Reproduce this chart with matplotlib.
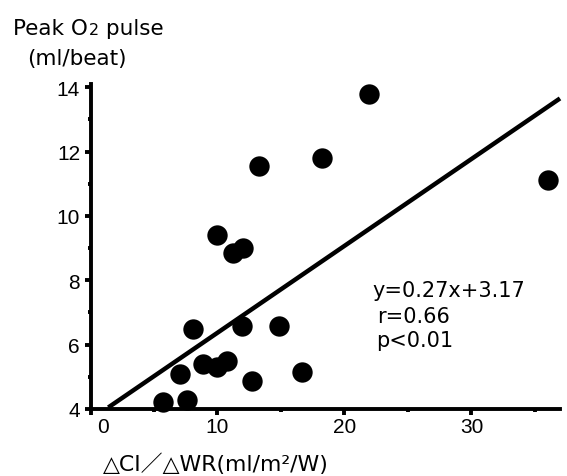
import matplotlib
matplotlib.use("Agg")
import matplotlib.pyplot as plt
from matplotlib.ticker import MultipleLocator
from matplotlib.transforms import ScaledTranslation

# data
ci_wr = [21.9, 18.25, 13.24, 36.0, 9.94, 11.24, 12.03, 8.09, 11.91, 14.82,
         8.88, 9.94, 10.72, 7.05, 12.72, 16.65, 5.69, 7.62]
o2_pulse = [13.78, 11.8, 11.55, 11.12, 9.41, 8.84, 8.99, 6.48, 6.59, 6.57,
            5.40, 5.29, 5.50, 5.09, 4.87, 5.14, 4.23, 4.28]

# regression line as drawn in the figure
fit_slope = 0.27
fit_intercept = 3.67
fit_x = [1.4, 36.97]

x_ticks = [0, 10, 20, 30]
y_ticks = [4, 6, 8, 10, 12, 14]
stats_lines = ["y=0.27x+3.17", "r=0.66", "p<0.01"]

W, H = 567, 477


def fx(px):
    return px / W


def fy(py):
    return 1 - py / H


fig = plt.figure(figsize=(W / 100, H / 100), dpi=100)
ax = fig.add_axes([fx(90.5), fy(410), (560 - 90.5) / W, (410 - 85) / H])

ax.scatter(ci_wr, o2_pulse, s=215, color="black", linewidths=0, zorder=3, clip_on=False)
fit_y = [fit_slope * x + fit_intercept for x in fit_x]
ax.plot(fit_x, fit_y, color="black", lw=3.2, solid_capstyle="butt", clip_on=False)

ax.set_xlim(0, 36.97)
ax.set_ylim(4, 14.1)

for side in ["top", "right"]:
    ax.spines[side].set_visible(False)
for side in ["left", "bottom"]:
    ax.spines[side].set_linewidth(2.8)

ax.set_xticks(x_ticks)
ax.set_yticks(y_ticks)
ax.xaxis.set_minor_locator(MultipleLocator(5))
ax.yaxis.set_minor_locator(MultipleLocator(1))
ax.tick_params(which="both", direction="out", width=2.8, labelsize=15)
ax.tick_params(which="major", length=4.5)
ax.tick_params(which="minor", length=2.2)
ax.tick_params(axis="x", pad=1.5)
ax.tick_params(axis="y", pad=3)
for lab in ax.get_xticklabels() + ax.get_yticklabels():
    lab.set_family("Liberation Sans")

# the "0" label sits a bit right of the axis corner
zero_lab = ax.get_xticklabels()[0]
zero_lab.set_transform(zero_lab.get_transform() + ScaledTranslation(0.13, 0, fig.dpi_scale_trans))

baselines = [297, 323, 347]
lefts = [372, 377, 376]
for line, xl, yb in zip(stats_lines, lefts, baselines):
    fig.text(fx(xl), fy(yb), line, fontsize=15, ha="left", va="baseline",
             family="DejaVu Sans")

# y axis title with the small "2"
fig.canvas.draw()
renderer = fig.canvas.get_renderer()
t1 = fig.text(fx(13), fy(35), "Peak O", fontsize=15.5, ha="left", va="baseline",
              family="DejaVu Sans")
bb = t1.get_window_extent(renderer)
t2 = fig.text(bb.x1 / W + 0.002, fy(35), "2", fontsize=11.5, ha="left", va="baseline",
              family="DejaVu Sans")
bb2 = t2.get_window_extent(renderer)
fig.text(bb2.x1 / W, fy(35), " pulse", fontsize=15.5, ha="left", va="baseline",
         family="DejaVu Sans")
fig.text(fx(27), fy(65), "(ml/beat)", fontsize=15.5, ha="left", va="baseline",
         family="DejaVu Sans")

fig.text(fx(103), fy(471), "△CI／△WR(ml/m²/W)", fontsize=15.8, ha="left", va="baseline",
         family=["DejaVu Sans", "Noto Sans CJK JP"])

fig.savefig("out.png", dpi=100)
